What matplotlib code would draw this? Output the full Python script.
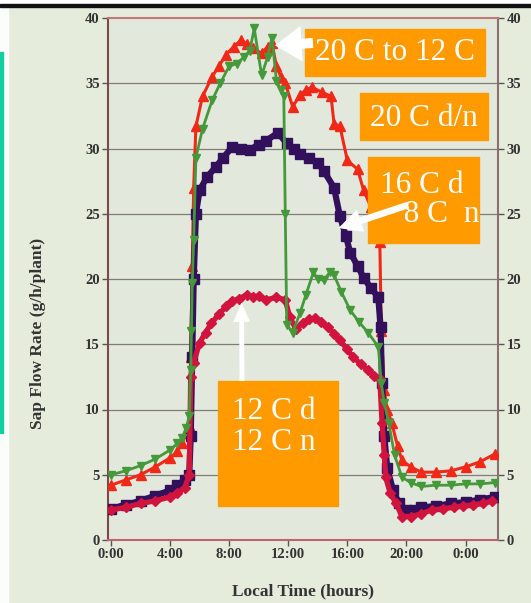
import matplotlib
matplotlib.use("Agg")
import matplotlib.pyplot as plt
from matplotlib.patches import Rectangle, ConnectionPatch

W, H = 531, 603

# ---------------- data (hours, g/h/plant) ----------------
green_t = [0, 1, 2, 3, 4, 4.5, 4.8, 5.1, 5.3, 5.4, 5.45, 5.5, 5.6, 5.75, 6.2, 6.85,
           7.4, 8.0, 8.5, 9.0, 9.4, 9.7, 10.2, 10.6, 10.9, 11.2, 11.5, 11.7, 11.8,
           11.9, 12.3, 12.8, 13.2, 13.7, 14.0, 14.4, 14.8, 15.1, 15.6, 16.2, 16.8,
           17.4, 18.1, 18.3, 18.5, 18.8, 19.2, 19.7, 20.3, 21, 22, 23, 24, 25, 26]
green_v = [5.0, 5.3, 5.7, 6.2, 6.9, 7.4, 7.8, 8.6, 9.5, 13, 16, 19.7, 23, 29.3, 31.5, 33.7,
           35.0, 36.3, 36.5, 37.0, 37.5, 39.2, 35.6, 37.0, 38.5, 35.2, 34.5, 34.0, 25,
           16.5, 15.9, 17.4, 18.8, 20.5, 20.0, 19.9, 20.5, 20.3, 19.0, 17.6, 16.7,
           15.9, 14.8, 12, 10.5, 9.0, 6.5, 4.8, 4.4, 4.1, 4.2, 4.2, 4.3, 4.3, 4.4]

red_t = [0, 1, 2, 3, 4, 4.5, 4.8, 5.1, 5.3, 5.4, 5.5, 5.6, 5.75, 6.2, 6.85, 7.3, 7.8,
         8.3, 8.8, 9.2, 9.6, 10.2, 10.6, 10.9, 11.2, 11.5, 11.8, 12.3, 12.8, 13.2,
         13.6, 14.3, 14.9, 15.1, 15.5, 16.0, 16.7, 17.1, 17.6, 18.2, 18.3, 18.5,
         18.7, 19.0, 19.4, 19.7, 20.3, 21, 22, 23, 24, 25, 26]
red_v = [4.2, 4.6, 5.0, 5.6, 6.3, 6.8, 7.4, 8.2, 8.8, 14, 21, 27, 31.7, 34.0, 35.5, 36.3,
         37.2, 37.8, 38.3, 38.0, 37.7, 37.3, 37.8, 38.1, 36.3, 35.5, 35.0, 33.2, 34.1,
         34.5, 34.7, 34.3, 34.0, 31.9, 31.7, 29.1, 28.4, 26.8, 25.5, 22.8, 16, 11.5,
         10, 9.0, 7.2, 6.1, 5.6, 5.2, 5.2, 5.3, 5.6, 6.0, 6.6]

purple_t = [0, 1, 2, 3, 4, 4.5, 5.0, 5.3, 5.4, 5.5, 5.6, 5.75, 6.0, 6.5, 7.1, 7.6, 8.2,
            8.8, 9.4, 10.0, 10.5, 11.3, 11.9, 12.4, 12.8, 13.4, 14.0, 14.4, 15.1, 15.5,
            15.9, 16.2, 16.7, 17.1, 17.6, 18.1, 18.25, 18.35, 18.5, 18.7, 19.1, 19.5,
            20.0, 20.5, 21, 22, 23, 24, 25, 26]
purple_v = [2.4, 2.7, 3.0, 3.4, 3.8, 4.2, 4.6, 5.0, 8, 14, 20, 25.0, 26.8, 27.8, 28.6,
            29.3, 30.1, 30.0, 29.9, 30.3, 30.6, 31.2, 30.4, 30.0, 29.6, 29.3, 28.9,
            28.3, 27.0, 24.8, 23.3, 22.0, 21.0, 20.1, 19.3, 18.6, 16.3, 12, 8, 5.5,
            3.8, 2.8, 2.3, 2.3, 2.5, 2.6, 2.8, 2.9, 3.1, 3.3]

crimson_t = [0, 1, 2, 3, 4, 4.5, 5.0, 5.3, 5.4, 5.6, 6.0, 6.4, 6.8, 7.3, 7.8, 8.2, 8.7,
             9.2, 9.6, 10.0, 10.5, 11.2, 11.8, 12.1, 12.5, 13.0, 13.4, 13.8, 14.2, 14.7,
             15.1, 15.5, 16.0, 16.4, 16.9, 17.4, 17.8, 18.2, 18.35, 18.5, 18.6, 18.9,
             19.3, 19.7, 20.3, 21, 21.7, 22.5, 23.2, 23.8, 24.5, 25.2, 25.8]
crimson_v = [2.3, 2.5, 2.8, 3.0, 3.3, 3.6, 4.0, 5.0, 12.5, 13.6, 15.1, 15.9, 16.6, 17.3,
             17.9, 18.3, 18.5, 18.8, 18.6, 18.7, 18.4, 18.6, 18.4, 17.1, 16.2, 16.6,
             16.9, 17.0, 16.7, 16.3, 15.8, 15.3, 14.6, 14.0, 13.5, 13.0, 12.6, 12.3,
             9, 6.5, 4.8, 3.6, 2.8, 1.8, 1.8, 2.0, 2.3, 2.4, 2.5, 2.6, 2.7, 2.8, 3.0]

xticks = [0, 4, 8, 12, 16, 20, 24]
xtick_labels = ["0:00", "4:00", "8:00", "12:00", "16:00", "20:00", "0:00"]
yticks = [0, 5, 10, 15, 20, 25, 30, 35, 40]

labels_box = ["20 C to 12 C", "20 C d/n", "16 C d\n   8 C  n", "12 C d\n12 C n"]

# ---------------- figure ----------------
fig = plt.figure(figsize=(W / 100, H / 100), dpi=100)
fig.patch.set_facecolor("#e6ecdc")

def fx(px):
    return px / W

def fy(py):
    return 1 - py / H

# photo edge decorations
fig.add_artist(Rectangle((0, 0), fx(8), 1, transform=fig.transFigure,
                         color="#fbfdfb", zorder=0))
fig.add_artist(Rectangle((0, fy(7)), 1, 1 - fy(7), transform=fig.transFigure,
                         color="#ffffff", zorder=0.5))
fig.add_artist(Rectangle((0, fy(7)), 1, fy(4) - fy(7), transform=fig.transFigure,
                         color="#111111", zorder=1))
fig.add_artist(Rectangle((0, fy(433)), fx(3), fy(52) - fy(433), transform=fig.transFigure,
                         color="#12cfa2", zorder=1))

L, R, T, B = 108, 498, 18, 540
ax = fig.add_axes([fx(L), fy(B), fx(R) - fx(L), fy(T) - fy(B)])
ax.set_facecolor("#e2e9dc")

ax.set_xlim(-0.2, 26.2)
ax.set_ylim(0, 40)

for v in yticks[1:-1]:
    ax.axhline(v, color="#7d7f76", lw=0.9, zorder=1)

ax.plot(red_t, red_v, color="#f02818", marker="^", ms=6.5, lw=2.2, zorder=3)
ax.plot(green_t, green_v, color="#45993a", marker="v", ms=5.5, lw=2.0, zorder=4)
ax.plot(purple_t, purple_v, color="#33105c", marker="s", ms=6.5, lw=4.5, zorder=3)
ax.plot(crimson_t, crimson_v, color="#d0143e", marker="D", ms=5, lw=3.8, zorder=3)

serif = ["Liberation Serif", "DejaVu Serif"]
ax.set_xticks(xticks)
ax.set_xticklabels(xtick_labels, fontfamily=serif, fontweight="bold", fontsize=10.5,
                   color="#333333")
ax.set_yticks(yticks)
ax.set_yticklabels([str(v) for v in yticks], fontfamily=serif, fontweight="bold",
                   fontsize=10.5, color="#333333")
ax.tick_params(axis="both", direction="out", length=4, width=1, color="#555555", pad=2)
ax.tick_params(axis="y", which="both", right=True, labelright=True)

ax.spines["left"].set_color("#7a4a4a")
ax.spines["top"].set_color("#c07878")
ax.spines["bottom"].set_color("#c06070")
ax.spines["right"].set_color("#8a7070")
for s in ax.spines.values():
    s.set_linewidth(1.5)

ax.set_xlabel("Local Time (hours)", fontfamily=serif, fontweight="bold", fontsize=12.5,
              color="#333333", labelpad=16)
fig.text(fx(38), fy(333), "Sap Flow Rate (g/h/plant)", rotation=90, ha="center",
         va="center", fontfamily=serif, fontweight="bold", fontsize=12.5, color="#333333")

# ---------------- orange annotation boxes ----------------
orange = "#ff9a00"
boxes = [(305, 29, 485, 76), (360, 93, 488, 140), (368, 157, 479, 243), (218, 381, 338, 506)]
for (x0, y0, x1, y1) in boxes:
    fig.add_artist(Rectangle((fx(x0), fy(y1)), fx(x1) - fx(x0), fy(y0) - fy(y1),
                             transform=fig.transFigure, color=orange, zorder=5))

tkw = dict(color="white", fontfamily=serif, fontsize=22.5, zorder=7)
fig.text(fx(395), fy(53), labels_box[0], ha="center", va="center", **tkw)
fig.text(fx(424), fy(118), labels_box[1], ha="center", va="center", **tkw)
fig.text(fx(380), fy(200), labels_box[2], ha="left", va="center", linespacing=1.0, **tkw)
fig.text(fx(232), fy(427), labels_box[3], ha="left", va="center", linespacing=1.05, **tkw)

# ---------------- white arrows ----------------
def carrow(tail_px, tip_data, style, ms):
    cp = ConnectionPatch(xyA=(fx(tail_px[0]), fy(tail_px[1])), coordsA=fig.transFigure,
                         xyB=tip_data, coordsB=ax.transData, arrowstyle=style,
                         color="white", zorder=8, mutation_scale=ms, lw=0)
    fig.add_artist(cp)

carrow((313, 43), (11.1, 37.9), "simple,head_width=1.6,head_length=1.2,tail_width=0.45", 16)
carrow((408, 205), (15.4, 23.9), "simple,head_width=1.4,head_length=1.4,tail_width=0.4", 12)
carrow((242, 381), (8.84, 18.2), "simple,head_width=1.2,head_length=1.4,tail_width=0.35", 10)

fig.savefig("out.png", dpi=100, facecolor=fig.get_facecolor())
